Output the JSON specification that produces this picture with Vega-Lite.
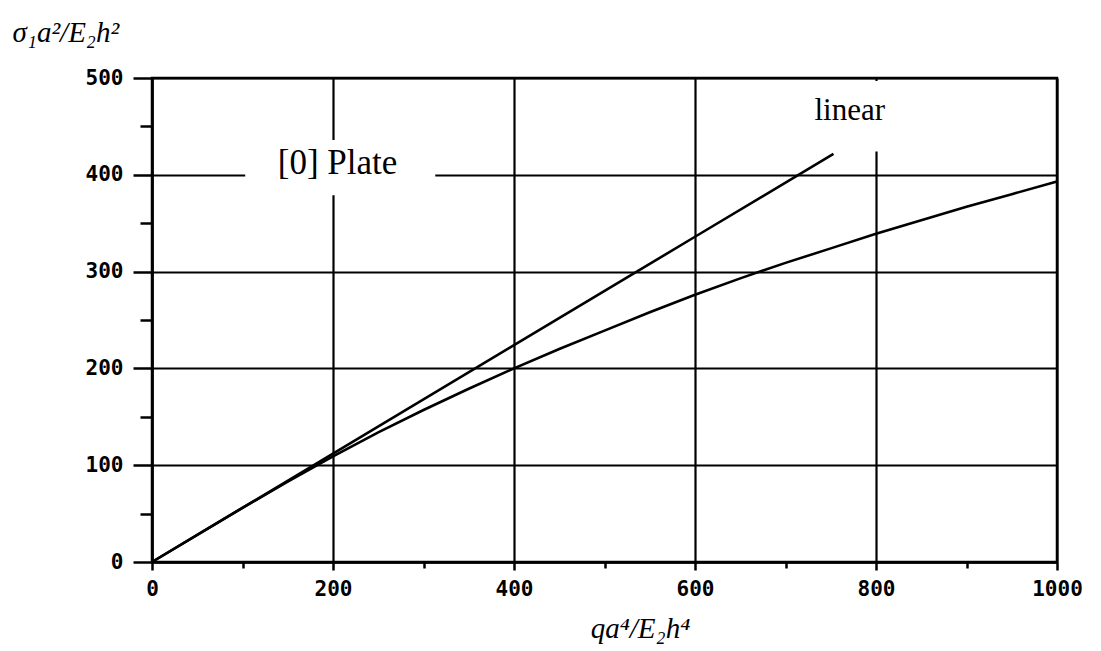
{
  "$schema": "https://vega.github.io/schema/vega-lite/v6.json",
  "width": 905,
  "height": 484,
  "autosize": {"type": "none"},
  "padding": {"left": 152, "top": 78, "right": 44, "bottom": 89},
  "background": "white",
  "config": {
    "view": {"stroke": "black", "strokeWidth": 2.5},
    "axis": {
      "domainColor": "black", "domainWidth": 2.5,
      "tickColor": "black", "tickWidth": 2.5,
      "gridColor": "black", "gridWidth": 2.2, "gridOpacity": 1,
      "labelFont": "DejaVu Sans Mono", "labelFontWeight": "bold", "labelFontSize": 21, "labelColor": "black",
      "titleFont": "Liberation Serif", "titleFontStyle": "italic", "titleFontWeight": "normal", "titleFontSize": 29, "titleColor": "black"
    }
  },
  "datasets": {
    "curves": [
      {"series": "linear", "x": 0, "y": 0},
      {"series": "linear", "x": 200, "y": 112},
      {"series": "linear", "x": 400, "y": 224},
      {"series": "linear", "x": 600, "y": 336},
      {"series": "linear", "x": 753, "y": 421.5},
      {"series": "[0] Plate", "x": 0, "y": 0},
      {"series": "[0] Plate", "x": 50, "y": 28},
      {"series": "[0] Plate", "x": 100, "y": 56},
      {"series": "[0] Plate", "x": 150, "y": 83},
      {"series": "[0] Plate", "x": 200, "y": 109},
      {"series": "[0] Plate", "x": 250, "y": 134},
      {"series": "[0] Plate", "x": 300, "y": 157},
      {"series": "[0] Plate", "x": 350, "y": 179},
      {"series": "[0] Plate", "x": 400, "y": 200},
      {"series": "[0] Plate", "x": 450, "y": 220},
      {"series": "[0] Plate", "x": 500, "y": 239},
      {"series": "[0] Plate", "x": 550, "y": 258},
      {"series": "[0] Plate", "x": 600, "y": 276},
      {"series": "[0] Plate", "x": 650, "y": 293},
      {"series": "[0] Plate", "x": 700, "y": 309},
      {"series": "[0] Plate", "x": 750, "y": 324},
      {"series": "[0] Plate", "x": 800, "y": 339},
      {"series": "[0] Plate", "x": 850, "y": 353},
      {"series": "[0] Plate", "x": 900, "y": 367},
      {"series": "[0] Plate", "x": 950, "y": 380},
      {"series": "[0] Plate", "x": 1000, "y": 393}
    ]
  },
  "layer": [
    {
      "data": {"values": [{}]},
      "mark": {"type": "rect", "fill": "white", "stroke": null},
      "encoding": {
        "x": {"datum": 103, "type": "quantitative", "scale": {"domain": [0, 1000], "nice": false}, "axis": null},
        "x2": {"datum": 313},
        "y": {"datum": 379, "type": "quantitative", "scale": {"domain": [0, 500], "nice": false}, "axis": null},
        "y2": {"datum": 436}
      }
    },
    {
      "data": {"values": [{}]},
      "mark": {"type": "rect", "fill": "white", "stroke": null},
      "encoding": {
        "x": {"datum": 762, "type": "quantitative", "scale": {"domain": [0, 1000], "nice": false}, "axis": null},
        "x2": {"datum": 840},
        "y": {"datum": 424, "type": "quantitative", "scale": {"domain": [0, 500], "nice": false}, "axis": null},
        "y2": {"datum": 497}
      }
    },
    {
      "data": {"name": "curves"},
      "mark": {"type": "line", "color": "black", "strokeWidth": 2.6},
      "encoding": {
        "x": {
          "field": "x", "type": "quantitative",
          "scale": {"domain": [0, 1000], "nice": false},
          "axis": {
            "values": [0, 200, 400, 600, 800, 1000], "grid": true, "tickSize": 8, "labelPadding": 8,
            "format": "d", "labelFlush": false,
            "title": "qa⁴/E₂h⁴", "titleX": 488, "titleY": 66, "titleBaseline": "middle", "titleAlign": "center"
          }
        },
        "y": {
          "field": "y", "type": "quantitative",
          "scale": {"domain": [0, 500], "nice": false},
          "axis": {
            "values": [0, 100, 200, 300, 400, 500], "grid": true, "tickSize": 19, "labelPadding": 10,
            "format": "d", "labelFlush": false,
            "title": "σ₁a²/E₂h²", "titleAngle": 0, "titleX": -140, "titleY": -46, "titleAlign": "left", "titleBaseline": "middle"
          }
        },
        "detail": {"field": "series"}
      }
    },
    {
      "data": {"name": "curves"},
      "mark": {"type": "point", "opacity": 0},
      "encoding": {
        "x": {
          "field": "x", "type": "quantitative",
          "scale": {"domain": [0, 1000], "nice": false},
          "axis": {"orient": "bottom", "values": [100, 300, 500, 700, 900], "labels": false, "grid": false, "domain": false, "tickSize": 6, "title": null}
        },
        "y": {
          "field": "y", "type": "quantitative",
          "scale": {"domain": [0, 500], "nice": false},
          "axis": {"orient": "left", "values": [50, 150, 250, 350, 450], "labels": false, "grid": false, "domain": false, "tickSize": 12, "title": null}
        }
      }
    },
    {
      "data": {"values": [{}]},
      "mark": {"type": "text", "text": "[0] Plate", "font": "Liberation Serif", "fontSize": 35, "color": "black", "align": "center", "baseline": "middle"},
      "encoding": {
        "x": {"datum": 205, "type": "quantitative", "scale": {"domain": [0, 1000], "nice": false}, "axis": null},
        "y": {"datum": 412, "type": "quantitative", "scale": {"domain": [0, 500], "nice": false}, "axis": null}
      }
    },
    {
      "data": {"values": [{}]},
      "mark": {"type": "text", "text": "linear", "font": "Liberation Serif", "fontSize": 31, "color": "black", "align": "center", "baseline": "middle"},
      "encoding": {
        "x": {"datum": 771, "type": "quantitative", "scale": {"domain": [0, 1000], "nice": false}, "axis": null},
        "y": {"datum": 466, "type": "quantitative", "scale": {"domain": [0, 500], "nice": false}, "axis": null}
      }
    }
  ],
  "resolve": {"axis": {"x": "independent", "y": "independent"}}
}
